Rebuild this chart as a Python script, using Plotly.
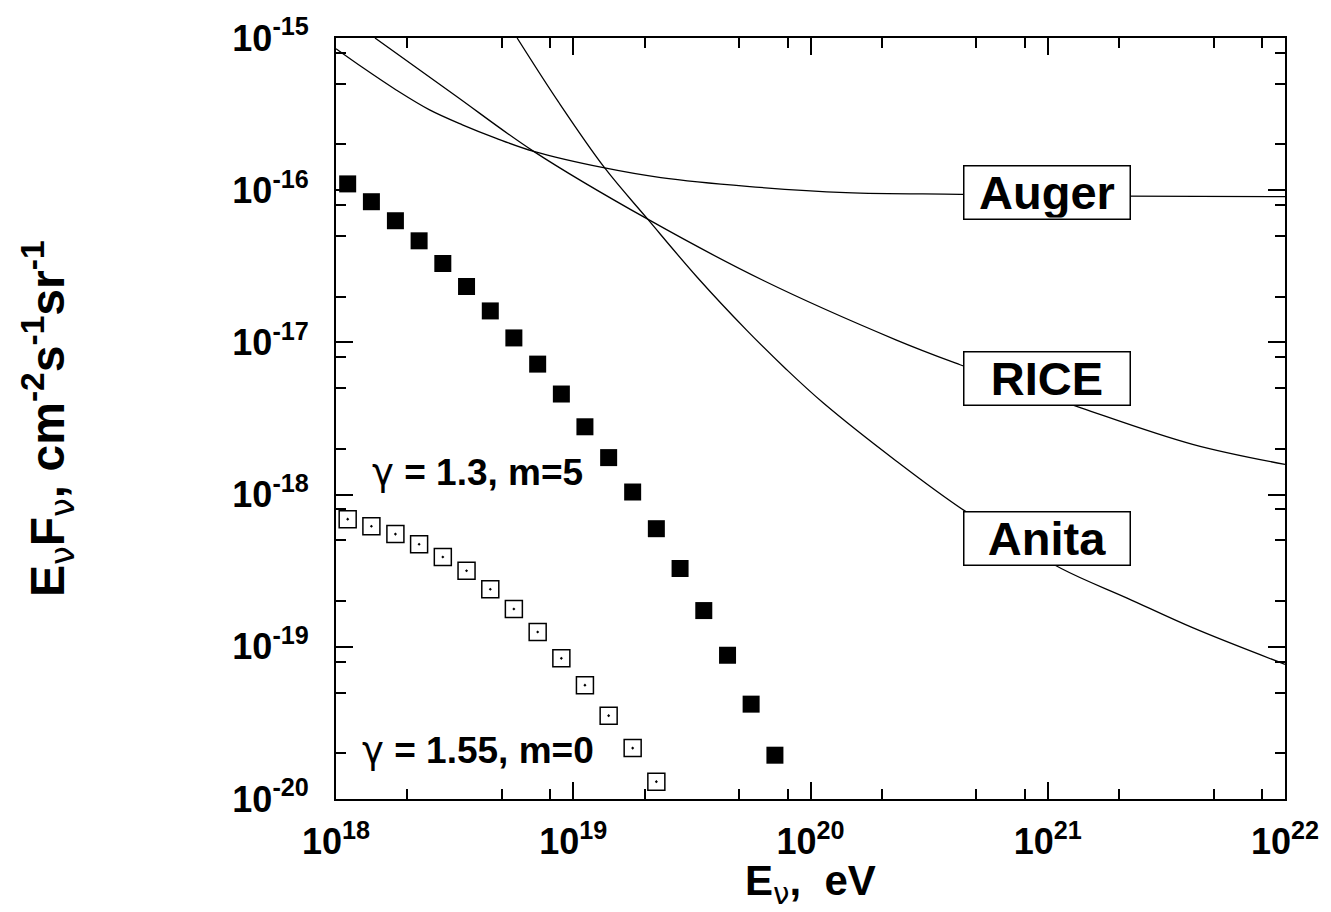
import plotly.graph_objects as go

# ---- data ----
# gamma = 1.3, m = 5 (filled squares)
e_filled = [1.12e18, 1.41e18, 1.78e18, 2.24e18, 2.82e18, 3.55e18, 4.47e18, 5.62e18, 7.08e18, 8.91e18,
            1.12e19, 1.41e19, 1.78e19, 2.24e19, 2.82e19, 3.55e19, 4.47e19, 5.62e19, 7.08e19]
f_filled = [1.10e-16, 8.4e-17, 6.3e-17, 4.65e-17, 3.3e-17, 2.33e-17, 1.61e-17, 1.07e-17, 7.2e-18, 4.58e-18,
            2.79e-18, 1.75e-18, 1.04e-18, 5.97e-19, 3.27e-19, 1.73e-19, 8.8e-20, 4.2e-20, 1.94e-20]

# gamma = 1.55, m = 0 (open squares)
e_open = [1.12e18, 1.41e18, 1.78e18, 2.24e18, 2.82e18, 3.55e18, 4.47e18, 5.62e18, 7.08e18, 8.91e18,
          1.12e19, 1.41e19, 1.78e19, 2.24e19]
f_open = [6.9e-19, 6.2e-19, 5.5e-19, 4.72e-19, 3.89e-19, 3.16e-19, 2.39e-19, 1.77e-19, 1.25e-19, 8.4e-20,
          5.6e-20, 3.53e-20, 2.16e-20, 1.30e-20]

# Auger sensitivity
e_auger = [1.0e18, 1.30e18, 1.80e18, 2.48e18, 3.41e18, 4.71e18, 6.81e18, 1.357e19, 2.34e19, 5.40e19,
           1.41e20, 4.28e20, 2.12e21, 1.0e22]
f_auger = [8.50e-16, 6.37e-16, 4.54e-16, 3.37e-16, 2.69e-16, 2.20e-16, 1.80e-16, 1.40e-16, 1.21e-16, 1.06e-16,
           9.64e-17, 9.40e-17, 9.15e-17, 9.07e-17]

# RICE sensitivity
e_rice = [1.46e18, 3.15e18, 6.81e18, 2.06e19, 6.33e19, 2.29e20, 4.27e20, 1.38e21, 4.08e21, 1.0e22]
f_rice = [1.0e-15, 4.24e-16, 1.80e-16, 6.45e-17, 2.55e-17, 1.04e-17, 7.13e-18, 3.72e-18, 2.14e-18, 1.58e-18]

# Anita sensitivity
e_anita = [5.80e18, 8.66e18, 1.357e19, 2.06e19, 3.33e19, 5.39e19, 7.92e19, 1.13e20, 2.29e20, 4.55e20,
           1.14e21, 2.16e21, 4.10e21, 1.0e22]
f_anita = [1.0e-15, 3.80e-16, 1.40e-16, 6.45e-17, 2.68e-17, 1.20e-17, 6.64e-18, 4.01e-18, 1.67e-18, 7.67e-19,
           3.27e-19, 2.09e-19, 1.33e-19, 7.67e-20]

x_tickvals = [1e18, 1e19, 1e20, 1e21, 1e22]
x_ticktext = ["10<sup>18</sup>", "10<sup>19</sup>", "10<sup>20</sup>", "10<sup>21</sup>", "10<sup>22</sup>"]
y_tickvals = [1e-20, 1e-19, 1e-18, 1e-17, 1e-16, 1e-15]
y_ticktext = ["10<sup>-20</sup>", "10<sup>-19</sup>", "10<sup>-18</sup>", "10<sup>-17</sup>",
              "10<sup>-16</sup>", "10<sup>-15</sup>"]
minor_mult = [2, 5, 8]

x_minor = [m * d for d in [1e18, 1e19, 1e20, 1e21] for m in minor_mult]
y_minor = [m * d for d in [1e-20, 1e-19, 1e-18, 1e-17, 1e-16] for m in minor_mult]

FONT = "Liberation Sans, Arial, sans-serif"
GREEK = "<span style=\"font-family:'DejaVu Sans';font-weight:normal\">{}</span>"
NU = GREEK.format("ν")
GAMMA = GREEK.format("γ")

fig = go.Figure()
line_style = dict(color="black", width=1.3, shape="spline", smoothing=1.0)
for ex, fy, nm in [(e_auger, f_auger, "Auger"), (e_rice, f_rice, "RICE"), (e_anita, f_anita, "Anita")]:
    fig.add_trace(go.Scatter(x=ex, y=fy, mode="lines", line=line_style, name=nm, showlegend=False))

fig.add_trace(go.Scatter(x=e_filled, y=f_filled, mode="markers", showlegend=False,
                         marker=dict(symbol="square", size=17, color="black", line=dict(width=0))))
fig.add_trace(go.Scatter(x=e_open, y=f_open, mode="markers", showlegend=False,
                         marker=dict(symbol="square-open-dot", size=17, color="black",
                                     line=dict(width=1.5, color="black"))))

axis_common = dict(
    type="log", showgrid=False, zeroline=False, showline=True, linecolor="black", linewidth=2,
    mirror="ticks", ticks="inside", ticklen=17, tickwidth=1.5, tickcolor="black",
    tickfont=dict(family=FONT, size=36, color="black", weight="bold"),
    tickmode="array",
)

fig.update_xaxes(**axis_common, range=[18, 22], tickvals=x_tickvals, ticktext=x_ticktext,
                 ticklabelstandoff=10,
                 minor=dict(tickmode="array", tickvals=x_minor, ticks="inside", ticklen=10,
                            tickwidth=1.5, tickcolor="black"))
fig.update_yaxes(**axis_common, range=[-20, -15], tickvals=y_tickvals, ticktext=y_ticktext,
                 ticklabelstandoff=18,
                 minor=dict(tickmode="array", tickvals=y_minor, ticks="inside", ticklen=10,
                            tickwidth=1.5, tickcolor="black"))

ann_font = dict(family=FONT, color="black", weight="bold")
annotations = [
    dict(text="E<sub>" + NU + "</sub>,  eV", x=0.5005, y=-0.112, xref="paper", yref="paper",
         xanchor="center", yanchor="middle", showarrow=False, font=dict(**ann_font, size=42)),
    dict(text="E<sub>" + NU + "</sub>F<sub>" + NU + "</sub>, cm<sup>-2</sup>s<sup>-1</sup>sr<sup>-1</sup>",
         x=-0.304, y=0.5, xref="paper", yref="paper", textangle=-90,
         xanchor="center", yanchor="middle", showarrow=False, font=dict(**ann_font, size=48)),
    dict(text=GAMMA + " = 1.3, m=5", x=0.0355, y=0.4295, xref="paper", yref="paper",
         xanchor="left", yanchor="middle", showarrow=False, font=dict(**ann_font, size=37)),
    dict(text=GAMMA + " = 1.55, m=0", x=0.0251, y=0.064, xref="paper", yref="paper",
         xanchor="left", yanchor="middle", showarrow=False, font=dict(**ann_font, size=37)),
]
for label, yc in [("Auger", 0.797), ("RICE", 0.5529), ("Anita", 0.3421)]:
    annotations.append(dict(text=label, x=0.7497, y=yc, xref="paper", yref="paper",
                            xanchor="center", yanchor="middle", showarrow=False,
                            width=163, height=50, borderpad=1, borderwidth=1.5,
                            bordercolor="black", bgcolor="white",
                            font=dict(**ann_font, size=47)))

fig.update_layout(
    width=1331, height=912,
    margin=dict(l=336, r=38, t=33, b=113),
    paper_bgcolor="white", plot_bgcolor="white",
    annotations=annotations,
    showlegend=False,
)

fig.write_html("out.html")
